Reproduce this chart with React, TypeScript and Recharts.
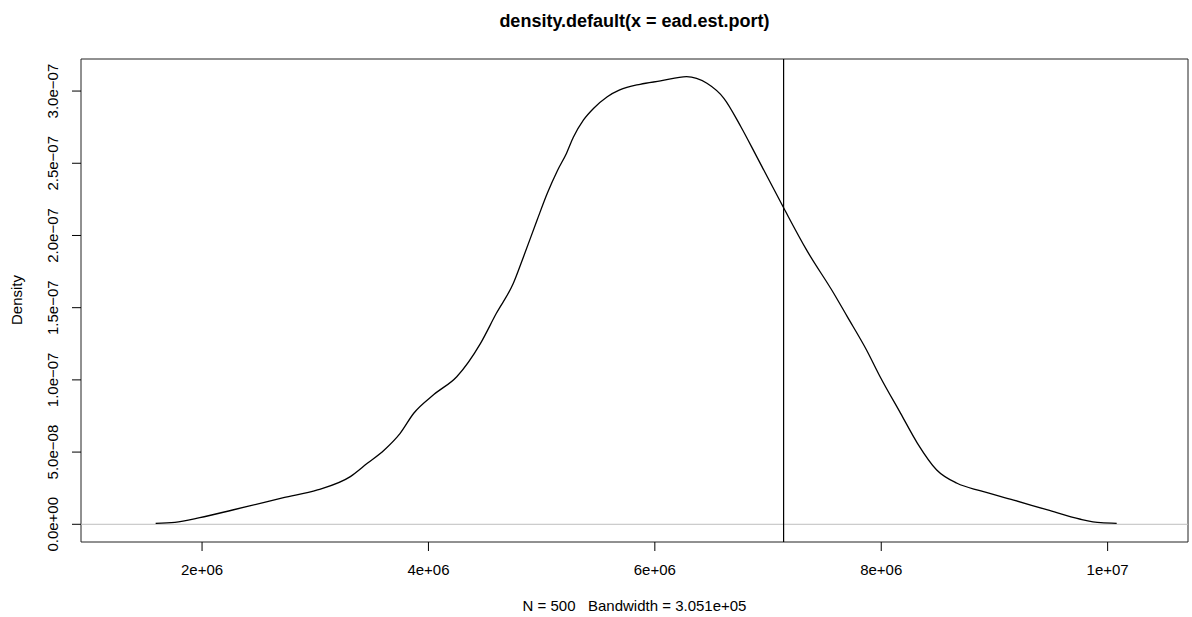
import { LineChart, Line, XAxis, YAxis, ReferenceLine, ReferenceArea } from "recharts";

// values (x in units, density per unit)
const xValues = [
  1.59e6, 1.76e6, 1.98e6, 2.27e6, 2.42e6, 2.72e6, 3.02e6, 3.31e6, 3.46e6, 3.61e6,
  3.75e6, 3.87e6, 4.05e6, 4.25e6, 4.46e6, 4.6e6, 4.75e6, 4.84e6, 4.96e6, 5.05e6,
  5.14e6, 5.22e6, 5.28e6, 5.37e6, 5.46e6, 5.58e6, 5.69e6, 5.87e6, 6.05e6, 6.28e6,
  6.46e6, 6.61e6, 6.76e6, 6.9e6, 7.14e6, 7.34e6, 7.58e6, 7.7e6, 7.87e6, 7.99e6,
  8.17e6, 8.32e6, 8.49e6, 8.67e6, 8.88e6, 9.17e6, 9.47e6, 9.76e6, 9.94e6, 1.008e7,
];
const densityValues = [
  0.07e-8, 0.14e-8, 0.46e-8, 0.99e-8, 1.27e-8, 1.84e-8, 2.38e-8, 3.3e-8, 4.22e-8, 5.15e-8,
  6.3e-8, 7.69e-8, 9.0e-8, 10.22e-8, 12.53e-8, 14.61e-8, 16.69e-8, 18.53e-8, 21.07e-8, 22.92e-8,
  24.5e-8, 25.7e-8, 26.8e-8, 28.0e-8, 28.81e-8, 29.61e-8, 30.08e-8, 30.47e-8, 30.7e-8, 31.0e-8,
  30.54e-8, 29.5e-8, 27.53e-8, 25.46e-8, 21.88e-8, 19.0e-8, 16.0e-8, 14.38e-8, 12.07e-8, 10.22e-8,
  7.7e-8, 5.61e-8, 3.76e-8, 2.84e-8, 2.31e-8, 1.68e-8, 0.99e-8, 0.35e-8, 0.11e-8, 0.07e-8,
];

const xTicks = [2e6, 4e6, 6e6, 8e6, 1e7];
const xTickLabels = ["2e+06", "4e+06", "6e+06", "8e+06", "1e+07"];
const yTicks = [0, 5e-8, 1e-7, 1.5e-7, 2e-7, 2.5e-7, 3e-7];
const yTickLabels = ["0.0e+00", "5.0e\u221208", "1.0e\u221207", "1.5e\u221207", "2.0e\u221207", "2.5e\u221207", "3.0e\u221207"];

const xDomain = [0.9306e6, 1.071e7];
const yDomain = [-1.226e-8, 3.222e-7];
const markerX = 7.1375e6;

const data = xValues.map((x, i) => ({ x, density: densityValues[i] }));

const FONT = "'Liberation Sans', Arial, Helvetica, sans-serif";

const XTick = ({ x, y, payload }: any) => {
  const i = xTicks.indexOf(payload.value);
  return (
    <text x={x} y={y + 22} textAnchor="middle" fontFamily={FONT} fontSize={15} fill="#000">
      {xTickLabels[i]}
    </text>
  );
};

const YTick = ({ x, y, payload }: any) => {
  const i = yTicks.indexOf(payload.value);
  const bx = x - 12;
  return (
    <text
      x={bx}
      y={y}
      transform={`rotate(-90, ${bx}, ${y})`}
      textAnchor="middle"
      fontFamily={FONT}
      fontSize={15}
      fill="#000"
    >
      {yTickLabels[i]}
    </text>
  );
};

const App = () => {
  return (
    <div style={{ position: "absolute", left: 0, top: 0, width: 1192, height: 617, background: "#fff" }}>
      <LineChart width={1192} height={617} data={data} margin={{ top: 59, right: 4, bottom: 35, left: 0 }}>
        <XAxis
          dataKey="x"
          type="number"
          domain={xDomain}
          allowDataOverflow
          ticks={xTicks}
          tick={<XTick />}
          tickSize={9}
          tickLine={{ stroke: "#000" }}
          axisLine={false}
          height={40}
        />
        <YAxis
          type="number"
          domain={yDomain}
          allowDataOverflow
          ticks={yTicks}
          tick={<YTick />}
          tickSize={9}
          tickLine={{ stroke: "#000" }}
          axisLine={false}
          width={81}
        />
        <ReferenceArea
          x1={xDomain[0]}
          x2={xDomain[1]}
          y1={yDomain[0]}
          y2={yDomain[1]}
          fill="none"
          stroke="#222"
          strokeWidth={1}
        />
        <ReferenceLine y={0} stroke="#bebebe" strokeWidth={1} />
        <ReferenceLine x={markerX} stroke="#000" strokeWidth={1.2} />
        <Line
          type="monotone"
          dataKey="density"
          stroke="#000"
          strokeWidth={1.3}
          dot={false}
          isAnimationActive={false}
        />
      </LineChart>
      <div
        style={{
          position: "absolute",
          left: 81,
          width: 1107,
          top: 10,
          textAlign: "center",
          fontFamily: FONT,
          fontWeight: "bold",
          fontSize: 18,
          lineHeight: "22px",
        }}
      >
        density.default(x = ead.est.port)
      </div>
      <div
        style={{
          position: "absolute",
          left: 81,
          width: 1107,
          top: 597,
          textAlign: "center",
          fontFamily: FONT,
          fontSize: 15,
          lineHeight: "18px",
          whiteSpace: "pre",
        }}
      >
        {"N = 500   Bandwidth = 3.051e+05"}
      </div>
      <div
        style={{
          position: "absolute",
          left: 17 - 50,
          top: 300 - 9,
          width: 100,
          textAlign: "center",
          fontFamily: FONT,
          fontSize: 15,
          lineHeight: "18px",
          transform: "rotate(-90deg)",
        }}
      >
        Density
      </div>
    </div>
  );
};

export default App;
